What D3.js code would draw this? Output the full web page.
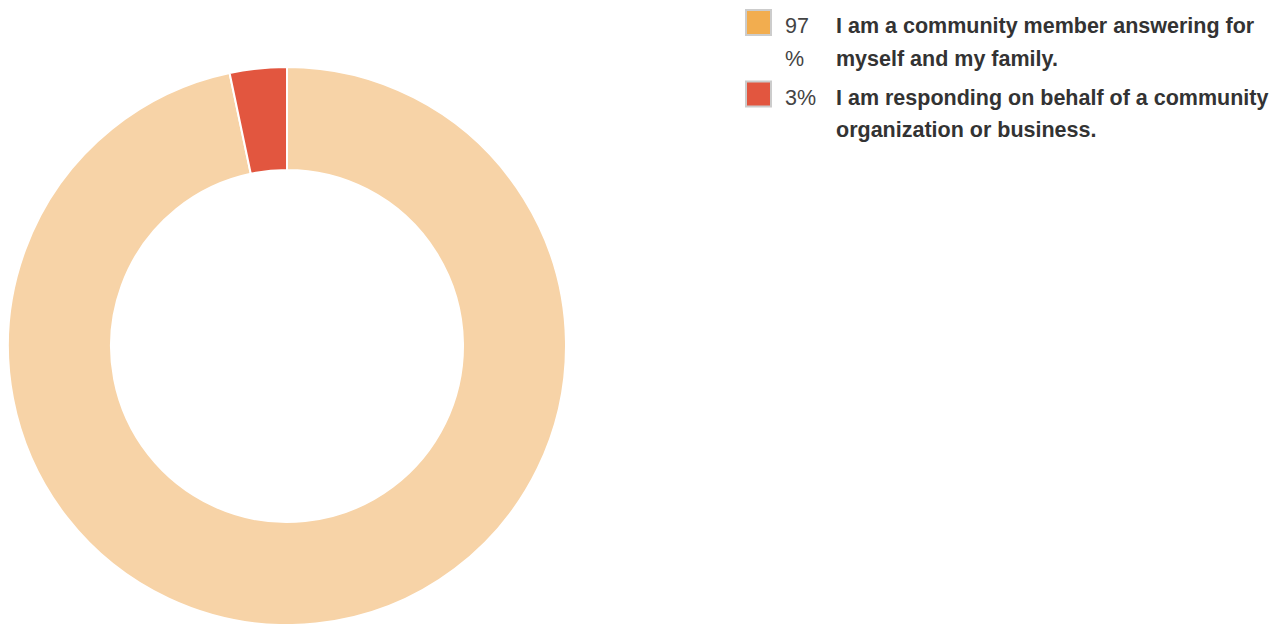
<!DOCTYPE html>
<html>
<head>
<meta charset="utf-8">
<script src="https://cdn.jsdelivr.net/npm/d3@7"></script>
<style>
  body { margin: 0; background: #fff; }
  svg { display: block; }
</style>
</head>
<body>
<script>
// answers to "who is responding" (shares of respondents)
const answers = [
  "I am a community member answering for myself and my family.",
  "I am responding on behalf of a community organization or business."
];
const shares = [0.967, 0.033];
const sliceColors = ["#f7d3a7", "#e2563f"];
const swatchColors = ["#f2ad4f", "#e2563f"];

const width = 1288, height = 624;
const cx = 287, cy = 346, outerR = 279, innerR = 176;

const data = answers.map((a, i) => ({ answer: a, share: shares[i] }));

const svg = d3.select("body").append("svg")
  .attr("width", width)
  .attr("height", height);

const pie = d3.pie().value(d => d.share).sort(null);
const arc = d3.arc().innerRadius(innerR).outerRadius(outerR);

svg.append("g")
  .attr("transform", `translate(${cx},${cy})`)
  .selectAll("path")
  .data(pie(data))
  .join("path")
  .attr("d", arc)
  .attr("fill", (d, i) => sliceColors[i])
  .attr("stroke", "#fff")
  .attr("stroke-width", 2);

// legend
const fmt = d3.format(".0%");
const legendX = 745, legendTop = 9, lineH = 32.5, rowGap = 6.5;
const pctX = 785, pctW = 36, labelX = 836, labelW = 442;

const legend = svg.append("g")
  .attr("font-family", "'Liberation Sans', Arial, Helvetica, sans-serif")
  .attr("font-size", 21.5);

// wrap a string into lines no wider than maxW
function wrapWords(textEl, str, maxW) {
  const words = str.split(" ");
  const lines = [];
  let cur = "";
  words.forEach(w => {
    const test = cur ? cur + " " + w : w;
    textEl.text(test);
    if (textEl.node().getComputedTextLength() > maxW && cur) {
      lines.push(cur);
      cur = w;
    } else cur = test;
  });
  if (cur) lines.push(cur);
  return lines;
}
function wrapChars(textEl, str, maxW) {
  const lines = [];
  let cur = "";
  for (const ch of str) {
    textEl.text(cur + ch);
    if (textEl.node().getComputedTextLength() > maxW && cur) {
      lines.push(cur);
      cur = ch;
    } else cur += ch;
  }
  if (cur) lines.push(cur);
  return lines;
}

let y = legendTop;
data.forEach((d, i) => {
  const row = legend.append("g");

  const lab = row.append("text")
    .attr("x", labelX)
    .attr("font-weight", "bold")
    .attr("fill", "#333");
  const labLines = wrapWords(lab, d.answer, labelW);

  const pct = row.append("text")
    .attr("x", pctX)
    .attr("fill", "#444");
  const pctLines = wrapChars(pct, fmt(d.share), pctW);

  const base = y + 24;
  lab.text(null).selectAll("tspan")
    .data(labLines)
    .join("tspan")
    .attr("x", labelX)
    .attr("y", (l, k) => base + k * lineH)
    .text(l => l);
  pct.text(null).selectAll("tspan")
    .data(pctLines)
    .join("tspan")
    .attr("x", pctX)
    .attr("y", (l, k) => base + k * lineH)
    .text(l => l);

  row.append("rect")
    .attr("x", legendX + 1)
    .attr("y", y + 1)
    .attr("width", 25)
    .attr("height", 25)
    .attr("fill", swatchColors[i])
    .attr("stroke", "#cccccc")
    .attr("stroke-width", 2);

  y += Math.max(labLines.length, pctLines.length) * lineH + rowGap;
});
</script>
</body>
</html>
